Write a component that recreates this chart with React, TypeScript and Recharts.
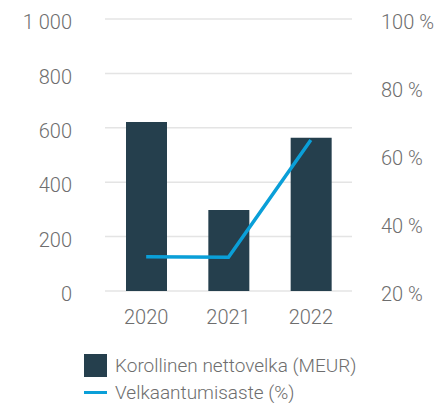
import React from 'react';
import { ComposedChart, Bar, Line, XAxis, YAxis, CartesianGrid, Legend } from 'recharts';

const years = ['2020', '2021', '2022'];
const netDebt = [621, 298, 563];
const gearing = [30.1, 29.9, 64.4];
const leftTicks = [0, 200, 400, 600, 800, 1000];
const rightTicks = [20, 40, 60, 80, 100];

const data = years.map((y, i) => ({ year: y, debt: netDebt[i], gearing: gearing[i] }));

const FONT = 'Roboto, "Liberation Sans", Arial, sans-serif';
const TEXT = '#6e6e6e';
const BAR = '#253f4d';
const LINE = '#0a9fd8';

const fmtLeft = (v: number) => (v >= 1000 ? `${Math.floor(v / 1000)} ${String(v % 1000).padStart(3, '0')}` : String(v));
const fmtRight = (v: number) => `${v} %`;

const LegendContent = (props: any) => {
  const payload = props.payload || [];
  return (
    <div style={{ fontFamily: FONT, fontWeight: 300, fontSize: 19, color: TEXT }}>
      {payload.map((p: any, i: number) => (
        <div key={i} style={{ display: 'flex', alignItems: 'center', height: 27 }}>
          {p.type === 'rect' ? (
            <div style={{ width: 23, height: 23, background: p.color, marginRight: 8 }} />
          ) : (
            <div style={{ width: 23, height: 3, background: p.color, marginRight: 8 }} />
          )}
          <span>{p.value}</span>
        </div>
      ))}
    </div>
  );
};

export default function App() {
  const tickStyle = { fill: TEXT, fontSize: 20, fontFamily: FONT, fontWeight: 300 };
  return (
    <div style={{ position: 'absolute', left: 0, top: 0, width: 441, height: 403, background: '#fff' }}>
      <ComposedChart
        width={441}
        height={403}
        data={data}
        margin={{ top: 19, right: 0, bottom: 0, left: 0 }}
      >
        <CartesianGrid vertical={false} stroke="#e4e4e4" strokeWidth={1.5} yAxisId="left" />
        <XAxis
          dataKey="year"
          axisLine={false}
          tickLine={false}
          tickSize={0}
          tickMargin={19}
          height={58}
          tick={tickStyle}
        />
        <YAxis
          yAxisId="left"
          orientation="left"
          domain={[0, 1000]}
          ticks={leftTicks}
          tickFormatter={fmtLeft}
          axisLine={false}
          tickLine={false}
          tickSize={0}
          tickMargin={33}
          width={105}
          interval={0}
          tick={{ ...tickStyle, dy: 3 }}
        />
        <YAxis
          yAxisId="right"
          orientation="right"
          domain={[20, 100]}
          ticks={rightTicks}
          tickFormatter={fmtRight}
          axisLine={false}
          tickLine={false}
          tickSize={0}
          tickMargin={29}
          width={89}
          interval={0}
          tick={{ ...tickStyle, dy: 3 }}
        />
        <Bar
          yAxisId="left"
          dataKey="debt"
          name="Korollinen nettovelka (MEUR)"
          fill={BAR}
          barSize={41}
          legendType="rect"
          isAnimationActive={false}
        />
        <Line
          yAxisId="right"
          dataKey="gearing"
          name="Velkaantumisaste (%)"
          stroke={LINE}
          strokeWidth={3.5}
          dot={false}
          legendType="line"
          isAnimationActive={false}
        />
        <Legend
          verticalAlign="bottom"
          align="left"
          content={<LegendContent />}
          wrapperStyle={{ left: 84, top: 352, width: 340, height: 54, bottom: 'auto' }}
        />
      </ComposedChart>
    </div>
  );
}
